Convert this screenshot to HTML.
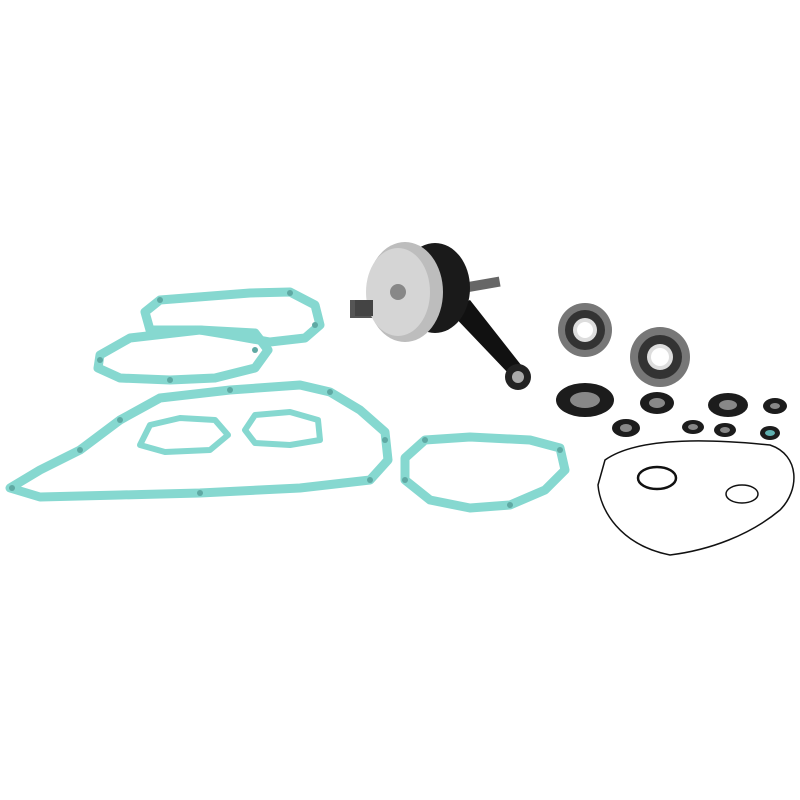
<!DOCTYPE html>
<html><head><meta charset="utf-8"><style>
html,body{margin:0;padding:0;background:#fff;width:800px;height:800px;overflow:hidden}
</style></head><body>
<svg width="800" height="800" viewBox="0 0 800 800" xmlns="http://www.w3.org/2000/svg">
<rect width="800" height="800" fill="#fff"/>
<g fill="none" stroke="#86d8d0" stroke-width="9" stroke-linejoin="round">
  <!-- upper gasket -->
  <path d="M145,312 L160,300 L250,293 L290,292 L315,305 L320,325 L305,338 L270,342 L230,335 L200,330 L150,330 Z"/>
  <!-- middle gasket -->
  <path d="M100,355 L130,338 L200,330 L255,333 L268,350 L255,368 L215,378 L170,380 L120,378 L98,368 Z"/>
  <!-- big gasket -->
  <path d="M10,488 L40,470 L80,450 L120,420 L160,398 L230,390 L300,385 L330,392 L360,410 L385,432 L388,460 L370,480 L300,488 L200,493 L120,495 L40,497 Z"/>
  <!-- inner small gaskets -->
  <path d="M140,445 L150,425 L180,418 L215,420 L228,435 L210,450 L165,452 Z" stroke-width="6"/>
  <path d="M245,430 L255,415 L290,412 L318,420 L320,440 L290,445 L255,443 Z" stroke-width="6"/>
  <!-- right gasket -->
  <path d="M405,458 L425,440 L470,437 L530,440 L560,448 L565,470 L545,490 L510,505 L470,508 L430,500 L405,480 Z"/>
</g>
<g fill="#5fa9a3">
  <circle cx="160" cy="300" r="3"/><circle cx="290" cy="293" r="3"/><circle cx="315" cy="325" r="3"/>
  <circle cx="100" cy="360" r="3"/><circle cx="255" cy="350" r="3"/><circle cx="170" cy="380" r="3"/>
  <circle cx="12" cy="488" r="3"/><circle cx="120" cy="420" r="3"/><circle cx="230" cy="390" r="3"/>
  <circle cx="330" cy="392" r="3"/><circle cx="385" cy="440" r="3"/><circle cx="370" cy="480" r="3"/>
  <circle cx="200" cy="493" r="3"/><circle cx="80" cy="450" r="3"/>
  <circle cx="425" cy="440" r="3"/><circle cx="560" cy="450" r="3"/><circle cx="510" cy="505" r="3"/><circle cx="405" cy="480" r="3"/>
</g>
<!-- crankshaft -->
<g>
  <rect x="350" y="300" width="30" height="18" fill="#555"/>
  <rect x="460" y="280" width="40" height="10" fill="#666" transform="rotate(-10 480 285)"/>
  <path d="M448,310 L510,375 L525,370 L470,300 Z" fill="#111"/>
  <circle cx="518" cy="377" r="13" fill="#222"/><circle cx="518" cy="377" r="6" fill="#aaa"/>
  <ellipse cx="435" cy="288" rx="35" ry="45" fill="#1a1a1a"/>
  <ellipse cx="405" cy="292" rx="38" ry="50" fill="#bdbdbd"/>
  <ellipse cx="398" cy="292" rx="32" ry="44" fill="#d5d5d5"/>
  <circle cx="398" cy="292" r="8" fill="#888"/>
  <rect x="355" y="300" width="18" height="16" fill="#444"/>
</g>
<!-- bearings -->
<g>
  <circle cx="585" cy="330" r="27" fill="#777"/><circle cx="585" cy="330" r="20" fill="#333"/><circle cx="585" cy="330" r="12" fill="#ddd"/><circle cx="585" cy="330" r="8" fill="#fff"/>
  <circle cx="660" cy="357" r="30" fill="#777"/><circle cx="660" cy="357" r="22" fill="#333"/><circle cx="660" cy="357" r="13" fill="#ddd"/><circle cx="660" cy="357" r="9" fill="#fff"/>
</g>
<!-- seals -->
<g fill="#1c1c1c">
  <ellipse cx="585" cy="400" rx="29" ry="17"/>
  <ellipse cx="657" cy="403" rx="17" ry="11"/>
  <ellipse cx="728" cy="405" rx="20" ry="12"/>
  <ellipse cx="775" cy="406" rx="12" ry="8"/>
  <ellipse cx="626" cy="428" rx="14" ry="9"/>
  <ellipse cx="693" cy="427" rx="11" ry="7"/>
  <ellipse cx="725" cy="430" rx="11" ry="7"/>
  <ellipse cx="770" cy="433" rx="10" ry="7"/>
</g>
<g fill="#888">
  <ellipse cx="585" cy="400" rx="15" ry="8"/>
  <ellipse cx="657" cy="403" rx="8" ry="5"/>
  <ellipse cx="728" cy="405" rx="9" ry="5"/>
  <ellipse cx="775" cy="406" rx="5" ry="3"/>
  <ellipse cx="626" cy="428" rx="6" ry="4"/>
  <ellipse cx="693" cy="427" rx="5" ry="3"/>
  <ellipse cx="725" cy="430" rx="5" ry="3"/>
  <ellipse cx="770" cy="433" rx="5" ry="3" fill="#5fb0b0"/>
</g>
<!-- o-rings -->
<g fill="none" stroke="#111">
  <path d="M605,460 C640,435 720,440 770,445 C800,455 800,490 780,510 C750,535 710,550 670,555 C620,545 600,510 598,485 Z" stroke-width="1.5"/>
  <ellipse cx="657" cy="478" rx="19" ry="11" stroke-width="2.5"/>
  <ellipse cx="742" cy="494" rx="16" ry="9" stroke-width="1.5"/>
</g>
</svg>
</body></html>
